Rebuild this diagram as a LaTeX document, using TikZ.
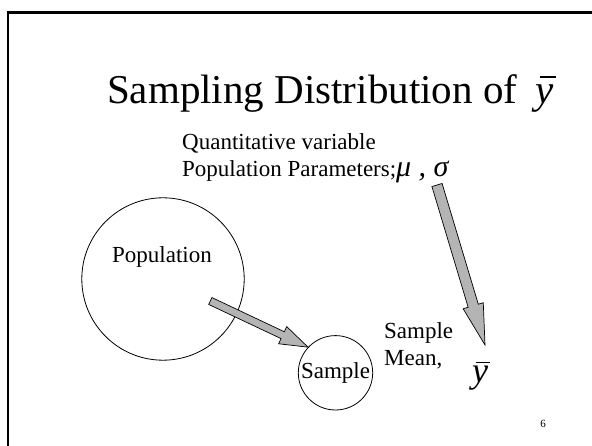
\documentclass[tikz,border=0pt]{standalone}
\usepackage{fontspec}
\setmainfont{Liberation Serif}
\usetikzlibrary{calc}
\definecolor{sdgray}{HTML}{B4B4B4}
\newcommand{\ybar}[1][0.56em]{\leavevmode\rlap{\hspace{0.1em}\raisebox{#1}{\rule{0.39em}{0.035em}}}\textit{y}}
\newcommand{\sdarrow}[5]{%
  \path ($(#2)!#5!(#1)$) coordinate (hb);
  \draw[sd arrow] ($(#1)!#3!90:(#2)$) -- ($(hb)!#3!90:(#2)$) -- ($(hb)!#4!90:(#2)$) -- (#2)
    -- ($(hb)!#4!-90:(#2)$) -- ($(hb)!#3!-90:(#2)$) -- ($(#1)!#3!-90:(#2)$) -- cycle;}
\tikzset{
  sd text/.style={font=\fontsize{23}{27}\selectfont, text=black, inner sep=0pt},
  sd title/.style={font=\fontsize{41}{48}\selectfont, text=black, inner sep=0pt},
  sd ring/.style={draw=black, circle, line width=0.8pt, inner sep=0pt},
  sd arrow/.style={draw=black, fill=sdgray, line width=0.7pt, line join=miter},
  sd frame/.style={draw=black, line width=2.4pt}
}
\begin{document}
\begin{tikzpicture}[x=1pt, y=-1pt]
  \path[use as bounding box, fill=white] (0,0) rectangle (592,446);
  \draw[sd frame] (8,450) -- (8,12.5) -- (600,12.5);
  \node[sd title, anchor=base west] (title) at (107,104) {Sampling Distribution of\hspace{0.2em} \ybar[0.64em]};
  \node[sd text, anchor=base west] (quant) at (182,149.5) {Quantitative variable};
  \node[sd text, anchor=base west] (params) at (182,176.5) {Population Parameters;{\fontsize{30}{30}\selectfont\itshape μ\/ , σ}};
  \node[sd ring, minimum size=162.4pt] (pop) at (163,279) {};
  \node[sd text, anchor=base] (poptext) at (162,262.7) {Population};
  \node[sd ring, sd text, minimum size=74.4pt] (sample) at (335.5,372.8) {Sample};
  \node[sd text, anchor=base west, align=left] (mean) at (384,366) {Sample\\Mean,};
  \node[font=\fontsize{36}{36}\selectfont, inner sep=0pt, anchor=base west] (ybar) at (472,383) {\ybar};
  \node[font=\fontsize{11}{11}\selectfont, inner sep=0pt, anchor=base] (page) at (543,427) {6};
  \coordinate (pop tail) at (210.3,301);
  \coordinate (param tail) at (437,185);
  \coordinate (mean tip) at (485,345);
  \sdarrow{pop tail}{sample.137}{3.8pt}{9.5pt}{28pt}
  \sdarrow{param tail}{mean tip}{5.3pt}{10.5pt}{41pt}
\end{tikzpicture}
\end{document}
